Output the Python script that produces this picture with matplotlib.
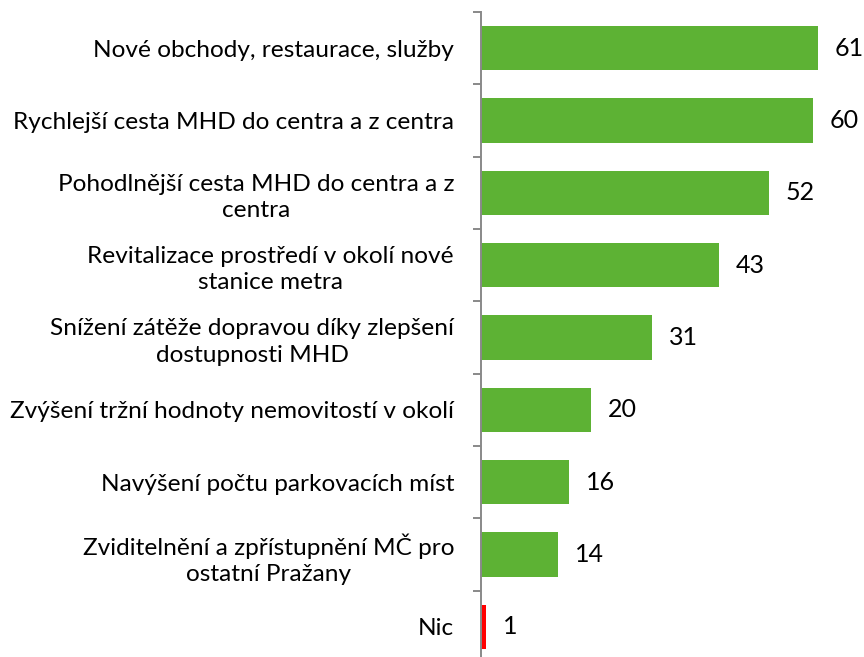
import matplotlib
matplotlib.use("Agg")
import matplotlib.pyplot as plt
import numpy as np

categories = [
    "Nové obchody, restaurace, služby",
    "Rychlejší cesta MHD do centra a z centra",
    "Pohodlnější cesta MHD do centra a z\ncentra",
    "Revitalizace prostředí v okolí nové\nstanice metra",
    "Snížení zátěže dopravou díky zlepšení\ndostupnosti MHD",
    "Zvýšení tržní hodnoty nemovitostí v okolí",
    "Navýšení počtu parkovacích míst",
    "Zviditelnění a zpřístupnění MČ pro\nostatní Pražany",
    "Nic",
]
values = [61, 60, 52, 43, 31, 20, 16, 14, 1]
bar_colors = ["#5DB234"] * 8 + ["#FF0000"]

plt.rcParams['font.family'] = ['Lato', 'DejaVu Sans']

W, H = 864, 657
fig = plt.figure(figsize=(W / 100, H / 100), dpi=100)
left_px, right_px, top_px, bottom_px = 480.5, 864, 12, 663
ax = fig.add_axes([left_px / W, (H - bottom_px) / H,
                   (right_px - left_px) / W, (bottom_px - top_px) / H])

y = np.arange(len(categories))
ax.barh(y, values, height=0.61, color=bar_colors)
ax.set_ylim(len(categories) - 0.5, -0.5)
ax.set_xlim(0, (right_px - left_px) / 5.54)

for yi, v in zip(y, values):
    ax.annotate(str(v), (v, yi), xytext=(12, 0), textcoords='offset points',
                va='center', ha='left', fontsize=18, color='black')

ax.set_yticks(y)
ax.set_yticklabels(categories, fontsize=17.6, multialignment='center',
                   linespacing=1.3)
ax.tick_params(axis='y', which='major', length=0, pad=19)
ax.set_yticks(np.arange(len(categories) + 1) - 0.5, minor=True)
ax.tick_params(axis='y', which='minor', length=5.8, width=1.4, color='#898989', direction='out')
ax.set_xticks([])
for s in ['top', 'right', 'bottom']:
    ax.spines[s].set_visible(False)
ax.spines['left'].set_color('#898989')
ax.spines['left'].set_linewidth(1.4)

fig.savefig("out.png", dpi=100)
